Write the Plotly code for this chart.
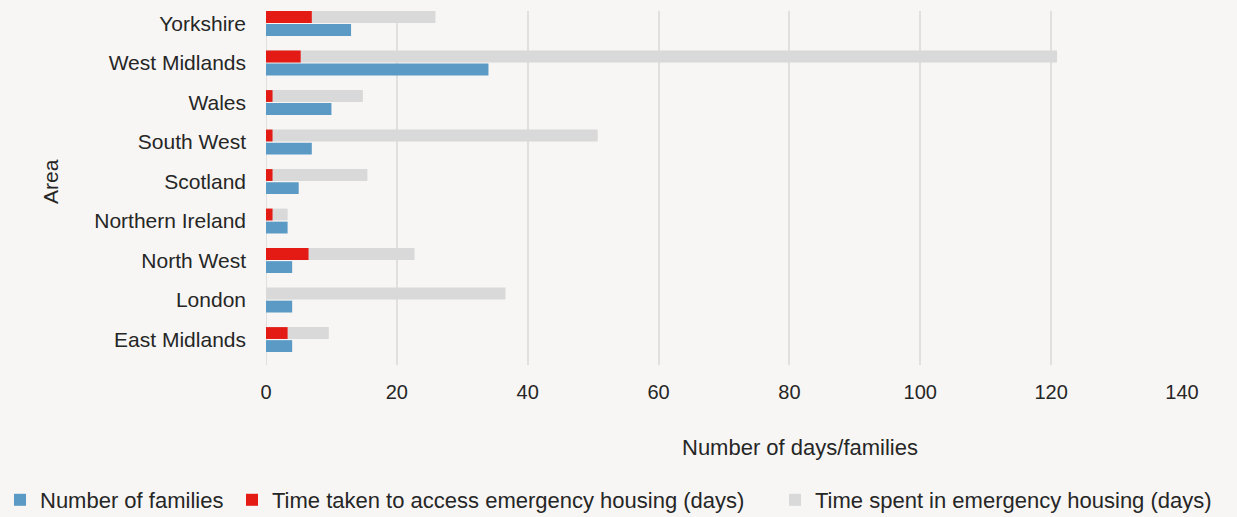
import plotly.graph_objects as go

areas = ["East Midlands", "London", "North West", "Northern Ireland", "Scotland",
         "South West", "Wales", "West Midlands", "Yorkshire"]
families = [4, 4, 4, 3.3, 5, 7, 10, 34, 13]
time_to_access = [3.3, 0, 6.5, 1, 1, 1, 1, 5.3, 7]
time_spent = [9.6, 36.6, 22.7, 3.3, 15.5, 50.7, 14.8, 120.9, 25.9]
x_ticks = [0, 20, 40, 60, 80, 100, 120, 140]

BLUE = "#5b9ac5"
RED = "#e41a15"
GREY = "#d8d9d8"
BG = "#f7f6f4"
TXT = "#262626"
FONT = "Liberation Sans"
W, H = 1237, 517
ML, MR, MT, MB = 266, 55, 11, 152

fig = go.Figure()
fig.add_trace(go.Bar(y=areas, x=families, orientation="h", name="Number of families",
                     marker=dict(color=BLUE, line=dict(width=0)), width=0.30, offset=-0.316,
                     legend="legend"))
fig.add_trace(go.Bar(y=areas, x=time_spent, orientation="h",
                     name="Time spent in emergency housing (days)",
                     marker=dict(color=GREY, line=dict(width=0)), width=0.30, offset=0.014,
                     legend="legend3"))
fig.add_trace(go.Bar(y=areas, x=time_to_access, orientation="h",
                     name="Time taken to access emergency housing (days)",
                     marker=dict(color=RED, line=dict(width=0)), width=0.30, offset=0.014,
                     legend="legend2"))


def leg(xpx):
    return dict(orientation="h", x=xpx / W, xanchor="left", xref="container",
                y=17 / H, yanchor="middle", yref="container",
                font=dict(size=22, color=TXT, family=FONT), itemwidth=30,
                bgcolor="rgba(0,0,0,0)", borderwidth=0)


pw = W - ML - MR
ph = H - MT - MB

fig.update_layout(
    width=W, height=H,
    barmode="overlay",
    paper_bgcolor=BG, plot_bgcolor=BG,
    font=dict(family=FONT, size=20, color=TXT),
    margin=dict(l=ML, r=MR, t=MT, b=MB),
    showlegend=True,
    legend=leg(-5), legend2=leg(232), legend3=leg(775),
    annotations=[
        dict(text="Number of days/families", x=(800 - ML) / pw, y=(H - MB - 447) / ph,
             xref="paper", yref="paper", xanchor="center", yanchor="middle",
             showarrow=False, font=dict(size=22, color=TXT)),
        dict(text="Area", x=(50 - ML) / pw, y=(H - MB - 182) / ph, xref="paper", yref="paper",
             xanchor="center", yanchor="middle", showarrow=False, textangle=-90,
             font=dict(size=21, color=TXT)),
    ],
)

fig.update_xaxes(range=[0, 140], tickvals=x_ticks, showgrid=True, gridcolor="#e1e0de",
                 gridwidth=2, zeroline=False, showline=False, ticks="",
                 ticklabelstandoff=13, tickfont=dict(size=20, color=TXT))
fig.update_yaxes(categoryorder="array", categoryarray=areas, range=[-0.645, 8.316],
                 showgrid=False, zeroline=False, showline=False, ticks="",
                 ticklabelstandoff=19, tickfont=dict(size=21, color=TXT))
fig.add_vline(x=0, line=dict(color="#e1e0de", width=2), layer="below")

fig.write_html("out.html")
